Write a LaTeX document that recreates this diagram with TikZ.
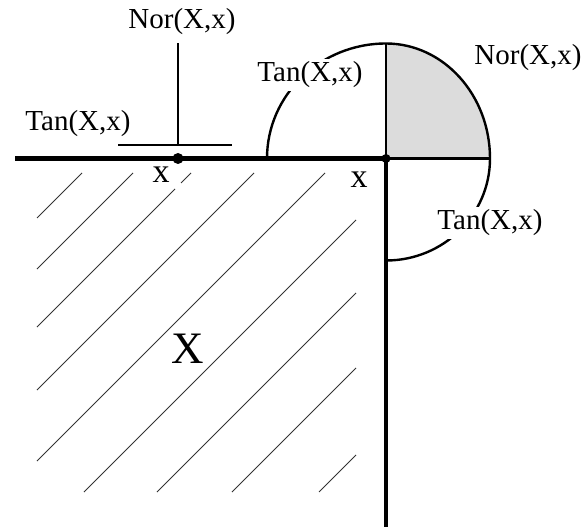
\documentclass[tikz,border=0pt]{standalone}
\usepackage{fontspec}
\setmainfont{Liberation Serif}
\usetikzlibrary{positioning}
\definecolor{ConeGray}{RGB}{220,220,220}

\begin{document}
\begin{tikzpicture}[x=1pt,y=-1pt,
    lbl/.style={font=\fontsize{29}{32}\selectfont,inner sep=3pt},
    pt/.style={font=\fontsize{34}{36}\selectfont,inner sep=2pt},
    bdry/.style={line width=4.6pt},
    cone/.style={line width=2.4pt},
    hatch/.style={line width=0.9pt,black!80}]
        \useasboundingbox (0,0) rectangle (584,532);
        \coordinate (p) at (178,158.5);
        \coordinate (c) at (386,158.5);
        % hatching of X
        \foreach \xa/\ya/\xb/\yb in
          {37/218/82/173, 37/269/133/173, 37/327/175/189, 181/183/191/173,
           37/390/254/173, 37/461/325/173, 84/492/356/220, 157/492/356/293,
           232/492/356/368, 319/492/356/455}
        {
          \draw[hatch] (\xa,\ya) -- (\xb,\yb);
        }
        % cones at the corner
        \fill[ConeGray] (c) -- (386,43.5)
          arc[start angle=270,end angle=360,x radius=104,y radius=115] -- cycle;
        \draw[cone] (267,158.5)
          arc[start angle=180,end angle=270,x radius=119,y radius=115]
          arc[start angle=270,end angle=360,x radius=104,y radius=115]
          arc[start angle=0,end angle=90,x radius=104,y radius=102];
        \draw[cone] (c) -- (386,43.5);
        \draw[cone] (c) -- (490,158.5);
        % cones at the smooth point
        \draw[cone] (118,145) -- (232,145);
        \draw[cone] (178,145) -- (178,43);
        % boundary of X
        \draw[bdry] (15,158.5) -- (c) -- (386,527);
        \fill (p) circle (5.5pt);
        \fill (c) circle (4.5pt);
        % labels
        \node[lbl] (norP) at (182,22) {Nor(X,x)};
        \node[lbl] (tanP) at (78,124) {Tan(X,x)};
        \node[pt] (ptP) at (161,175) {x};
        \node[lbl,fill=white] (tanC) at (310,75) {Tan(X,x)};
        \node[lbl] (norC) at (528,58) {Nor(X,x)};
        \node[lbl,fill=white] (tanD) at (490,223) {Tan(X,x)};
        \node[pt] (ptC) at (359,180) {x};
        \node[font=\fontsize{45}{50}\selectfont] (setX) at (188,349) {X};
      \end{tikzpicture}
\end{document}
